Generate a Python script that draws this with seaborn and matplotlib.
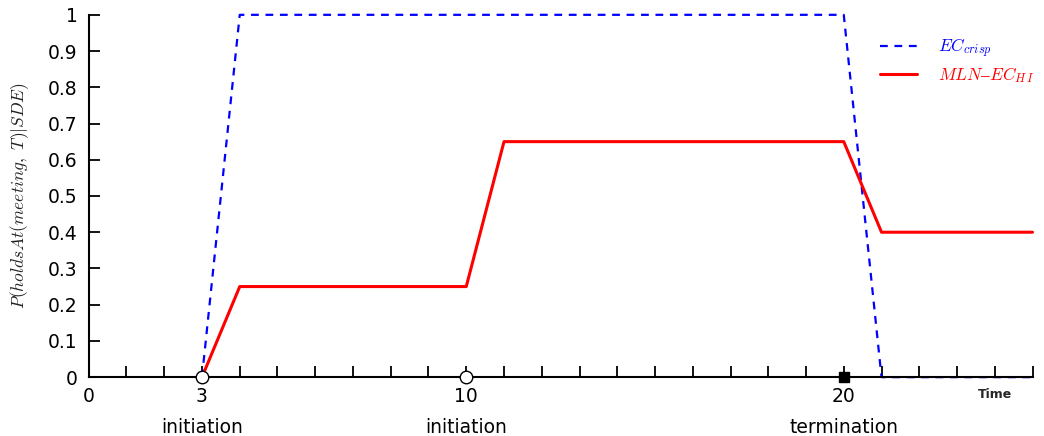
import pandas as pd
import seaborn as sns
import matplotlib.pyplot as plt
from matplotlib.ticker import MultipleLocator

# Data
time_crisp = [3, 4, 20, 21, 25]
prob_crisp = [0, 1, 1, 0, 0]
time_mln = [3, 4, 10, 11, 20, 21, 25]
prob_mln = [0, 0.25, 0.25, 0.65, 0.65, 0.4, 0.4]

event_times = [3, 10, 20]
event_names = ["initiation", "initiation", "termination"]

y_ticks = [0, 0.1, 0.2, 0.3, 0.4, 0.5, 0.6, 0.7, 0.8, 0.9, 1]
y_labels = ["0", "0.1", "0.2", "0.3", "0.4", "0.5", "0.6", "0.7", "0.8", "0.9", "1"]

crisp = pd.DataFrame({"Time": time_crisp, "P": prob_crisp})
mln = pd.DataFrame({"Time": time_mln, "P": prob_mln})

sns.set_style("ticks")
plt.rcParams["font.family"] = ["DejaVu Sans"]
plt.rcParams["mathtext.fontset"] = "cm"
plt.rcParams["xtick.color"] = "black"
plt.rcParams["ytick.color"] = "black"
plt.rcParams["xtick.labelcolor"] = "black"
plt.rcParams["ytick.labelcolor"] = "black"

fig = plt.figure(figsize=(10.44, 4.36), dpi=100)
ax = fig.add_axes([0.085, 0.135, 0.904, 0.831])

sns.lineplot(data=crisp, x="Time", y="P", ax=ax, color="#0000ff",
             linestyle=(0, (3.5, 3.0)), linewidth=1.6,
             label=r"$EC_{crisp}$", clip_on=False)
sns.lineplot(data=mln, x="Time", y="P", ax=ax, color="#ff0000",
             linewidth=2.2, label=r"$MLN\text{–}EC_{H\,I}$", clip_on=False)

# event markers on the time axis
ax.plot(event_times[:2], [0, 0], "o", ms=9, mfc="white", mec="black",
        mew=1.0, clip_on=False, zorder=5)
ax.plot(event_times[2:], [0], "s", ms=7.5, color="black", clip_on=False, zorder=5)

ax.set_xlim(0, 25)
ax.set_ylim(0, 1)
ax.set_xticks([0] + event_times)
ax.set_xticklabels(["0"] + [f"{t}\n{n}" for t, n in zip(event_times, event_names)],
                   fontsize=13.5, linespacing=1.8)
ax.xaxis.set_minor_locator(MultipleLocator(1))
ax.set_yticks(y_ticks)
ax.set_yticklabels(y_labels, fontsize=13.5)

ax.tick_params(axis="both", which="both", direction="in", length=8, width=1.3,
               color="black")
ax.tick_params(axis="x", which="major", pad=7)
ax.tick_params(axis="y", which="major", pad=8)

sns.despine(ax=ax)
for s in ["left", "bottom"]:
    ax.spines[s].set_linewidth(1.5)
    ax.spines[s].set_color("black")

ax.set_xlabel("")
ax.set_ylabel(r"$P(holdsAt(meeting,\ T)|SDE)$", fontsize=12.5, labelpad=12,
              color="#222222")
ax.text(24, -0.03, "Time", fontsize=9, fontweight="bold", ha="center", va="top",
        transform=ax.transData)

leg = ax.legend(loc="upper left", bbox_to_anchor=(0.838, 0.94), frameon=False,
                fontsize=12.5, handlelength=2.15, handletextpad=1.2,
                labelspacing=0.3, borderpad=0, borderaxespad=0)
for txt, c in zip(leg.get_texts(), ["#0000ff", "#ff0000"]):
    txt.set_color(c)

fig.savefig("out.png", dpi=100)
